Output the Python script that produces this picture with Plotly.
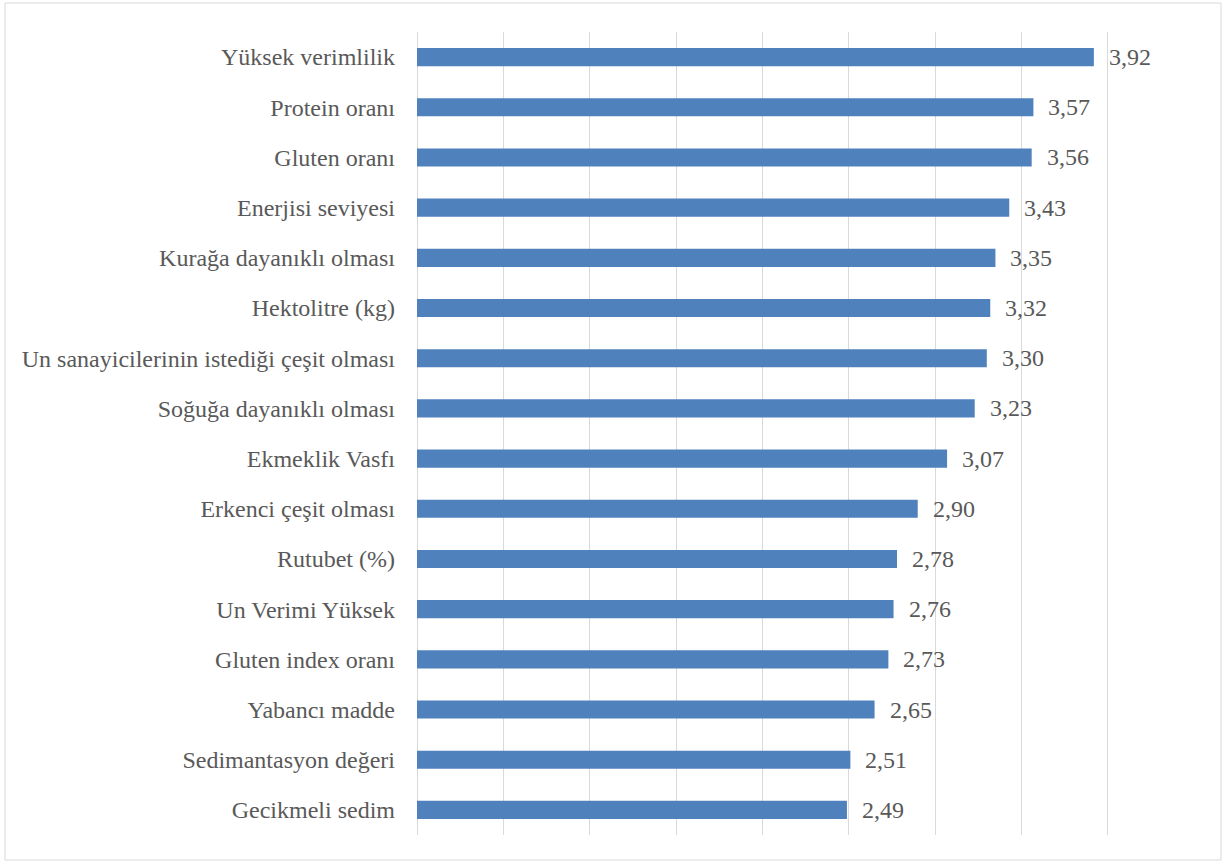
import plotly.graph_objects as go

# Criteria and their mean importance scores (top to bottom)
criteria = [
    "Yüksek verimlilik",
    "Protein oranı",
    "Gluten oranı",
    "Enerjisi seviyesi",
    "Kurağa dayanıklı olması",
    "Hektolitre (kg)",
    "Un sanayicilerinin istediği çeşit olması",
    "Soğuğa dayanıklı olması",
    "Ekmeklik Vasfı",
    "Erkenci çeşit olması",
    "Rutubet (%)",
    "Un Verimi Yüksek",
    "Gluten index oranı",
    "Yabancı madde",
    "Sedimantasyon değeri",
    "Gecikmeli sedim",
]
scores = [3.92, 3.57, 3.56, 3.43, 3.35, 3.32, 3.30, 3.23, 3.07, 2.90,
          2.78, 2.76, 2.73, 2.65, 2.51, 2.49]

W, H = 1225, 864
ML, MR, MT, MB = 417, 31, 32, 29
FONT = "Liberation Serif"
FONT_SIZE = 24
TEXT_COLOR = "#595959"

fig = go.Figure(
    go.Bar(
        x=scores,
        y=criteria,
        orientation="h",
        width=0.36,
        marker=dict(color="#4F81BD", line=dict(width=0)),
        hoverinfo="skip",
    )
)

# Value labels to the right of each bar, with a decimal comma
for name, v in zip(criteria, scores):
    fig.add_annotation(
        x=v, y=name, xref="x", yref="y",
        text=f"{v:.2f}".replace(".", ","),
        showarrow=False, xanchor="left", yanchor="middle",
        xshift=13,
        font=dict(family=FONT, size=FONT_SIZE, color=TEXT_COLOR),
    )

# Light outer frame around the chart area
pw = W - ML - MR
ph = H - MT - MB
def px_x(p):
    return (p - ML) / pw
def px_y(p):
    return (H - MB - p) / ph

fig.add_shape(
    type="rect", xref="paper", yref="paper",
    x0=px_x(5), x1=px_x(1221), y0=px_y(860), y1=px_y(3),
    line=dict(color="#D9D9D9", width=1), fillcolor="rgba(0,0,0,0)",
    layer="below",
)

fig.update_layout(
    width=W, height=H,
    margin=dict(l=ML, r=MR, t=MT, b=MB, pad=0),
    paper_bgcolor="white",
    plot_bgcolor="white",
    showlegend=False,
    bargap=0.64,
    font=dict(family=FONT),
    xaxis=dict(
        range=[0, 4.5],
        dtick=0.5,
        showticklabels=False,
        showgrid=True,
        gridcolor="#D9D9D9",
        gridwidth=1.3,
        zeroline=True,
        zerolinecolor="#D9D9D9",
        zerolinewidth=1.3,
        showline=False,
        fixedrange=True,
    ),
    yaxis=dict(
        autorange="reversed",
        type="category",
        showgrid=False,
        showline=False,
        ticks="",
        ticklabelstandoff=21,
        tickfont=dict(family=FONT, size=FONT_SIZE, color=TEXT_COLOR),
        fixedrange=True,
    ),
)

fig.write_html("out.html")
